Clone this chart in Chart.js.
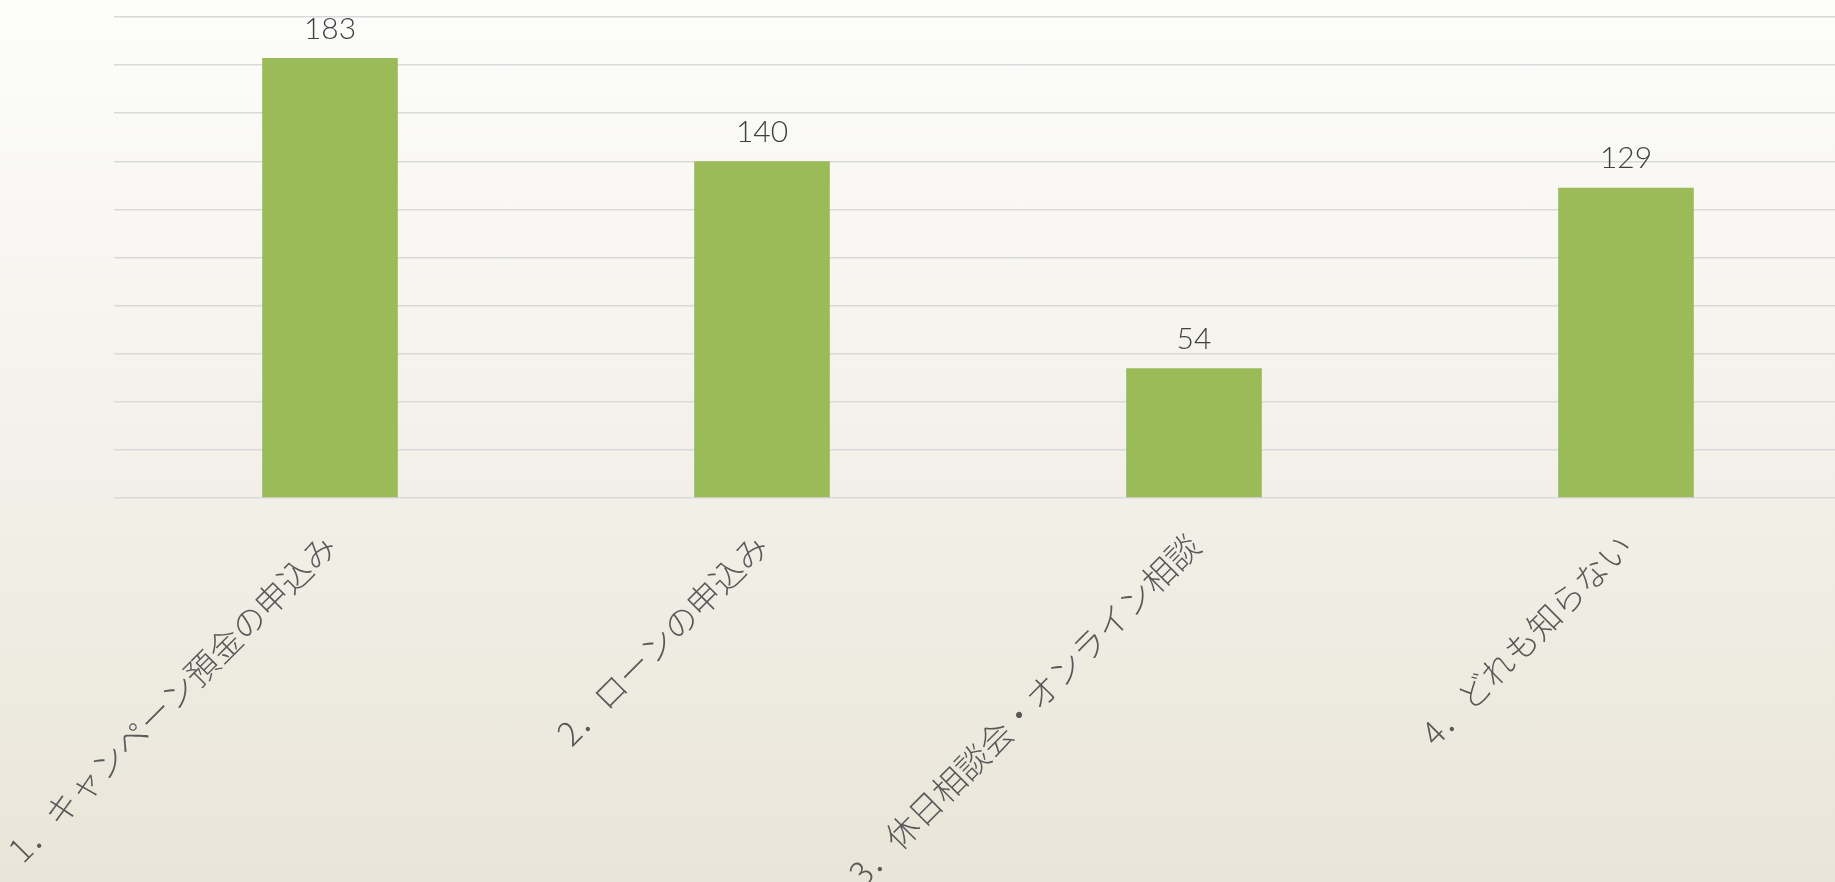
<!DOCTYPE html>
<html lang="ja">
<head>
<meta charset="utf-8">
<title>認知度</title>
<script src="https://cdn.jsdelivr.net/npm/chart.js@4"></script>
<style>
  html, body {
    margin: 0;
    padding: 0;
    width: 1835px;
    height: 882px;
    overflow: hidden;
    background: linear-gradient(180deg, #fdfdfc 0%, #f4f2ec 45%, #e9e5d8 100%);
  }
  .chart-box {
    position: relative;
    width: 1842px;
    height: 882px;
  }
</style>
</head>
<body>
<div class="chart-box">
  <canvas id="chart-bar"></canvas>
</div>
<script>
// 項目と回答数
const categories = [
  '1．キャンペーン預金の申込み',
  '2．ローンの申込み',
  '3．休日相談会・オンライン相談',
  '4．どれも知らない'
];
const counts = [183, 140, 54, 129];

// 縦軸 0〜200、20刻み
const axisMax = 200;
const axisStep = 20;

const BAR_COLOR = '#9BBB59';
const LABEL_FONT = '"Noto Sans CJK JP", "Noto Sans", sans-serif';

// 棒の上に件数を書く
const valueLabels = {
  id: 'valueLabels',
  afterDatasetsDraw(chart) {
    const { ctx } = chart;
    const meta = chart.getDatasetMeta(0);
    ctx.save();
    ctx.fillStyle = '#404040';
    ctx.font = '300 30px Lato, "Noto Sans", sans-serif';
    ctx.textAlign = 'center';
    ctx.textBaseline = 'bottom';
    meta.data.forEach((bar, i) => {
      ctx.fillText(String(counts[i]), bar.x, bar.y - 14);
    });
    ctx.restore();
  }
};

const canvas = document.getElementById('chart-bar');
new Chart(canvas.getContext('2d'), {
  type: 'bar',
  data: {
    labels: categories,
    datasets: [{
      data: counts,
      backgroundColor: BAR_COLOR,
      borderWidth: 0,
      barPercentage: 1,
      categoryPercentage: 0.314
    }]
  },
  options: {
    responsive: true,
    maintainAspectRatio: false,
    animation: false,
    layout: { padding: { left: 114, top: 17, right: 0, bottom: 0 } },
    plugins: {
      legend: { display: false },
      tooltip: { enabled: false }
    },
    scales: {
      x: {
        grid: { display: false },
        border: { display: false },
        ticks: {
          minRotation: 45,
          maxRotation: 45,
          autoSkip: false,
          padding: 20,
          color: '#595959',
          font: { family: LABEL_FONT, size: 33, weight: 300 }
        },
        afterFit(scale) {
          // 斜めラベルがはみ出しても描画領域を広げない
          scale.height = 384;
          scale.paddingLeft = 0;
          scale.paddingRight = 0;
        }
      },
      y: {
        min: 0,
        max: axisMax,
        ticks: { display: false, stepSize: axisStep },
        grid: { color: '#d9d9d9', lineWidth: 1.5, drawTicks: false },
        border: { display: false },
        afterFit(scale) { scale.width = 0; }
      }
    }
  },
  plugins: [valueLabels]
});
</script>
</body>
</html>
